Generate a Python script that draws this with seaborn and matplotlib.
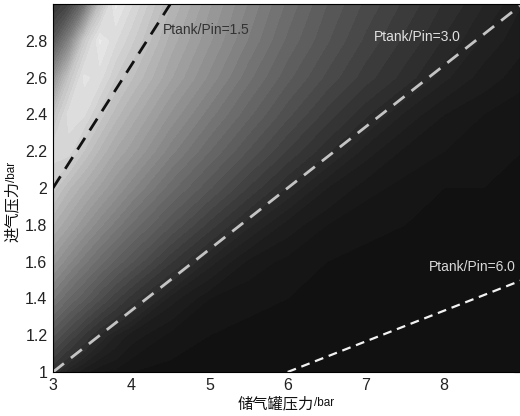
import numpy as np
import pandas as pd
import matplotlib
matplotlib.use("Agg")
import matplotlib.pyplot as plt
import seaborn as sns

# ---------------- data ----------------
tank_pressure = [3.0, 3.2, 3.4, 3.6, 3.8, 4.0, 4.5, 5.0, 5.5, 6.0, 6.5, 7.0, 7.5, 8.0, 8.5, 9.0]
inlet_pressure = [1.0, 1.2, 1.4, 1.6, 1.8, 2.0, 2.2, 2.4, 2.6, 2.8, 3.0]
# grey level of the field (0 = black, 255 = white), one row per inlet pressure
field = [
    [48, 34, 27, 23, 22, 20, 19, 18, 18, 17, 17, 17, 17, 16, 16, 16],
    [85, 70, 55, 42, 34, 28, 22, 20, 19, 18, 18, 17, 17, 17, 17, 16],
    [120, 105, 92, 78, 65, 53, 32, 23, 21, 20, 19, 18, 18, 17, 17, 17],
    [150, 135, 121, 108, 96, 85, 57, 36, 25, 22, 20, 19, 19, 18, 18, 17],
    [175, 162, 148, 135, 123, 111, 85, 60, 39, 28, 23, 21, 20, 19, 19, 18],
    [200, 183, 171, 159, 147, 135, 108, 85, 62, 42, 30, 24, 22, 20, 20, 19],
    [215, 214, 195, 180, 167, 157, 129, 105, 83, 62, 44, 32, 25, 23, 21, 20],
    [192, 220, 218, 200, 185, 173, 146, 122, 100, 79, 60, 44, 33, 26, 23, 21],
    [145, 195, 226, 220, 203, 190, 162, 138, 114, 93, 75, 59, 46, 35, 28, 24],
    [88, 130, 200, 232, 218, 205, 172, 148, 125, 103, 85, 68, 54, 42, 33, 27],
    [52, 68, 110, 190, 233, 218, 182, 155, 132, 110, 91, 75, 61, 48, 38, 30],
]
ratios = [1.5, 3.0, 6.0]
ratio_labels = ["Ptank/Pin=1.5", "Ptank/Pin=3.0", "Ptank/Pin=6.0"]
x_ticks = [3, 4, 5, 6, 7, 8]
x_ticklabels = ["3", "4", "5", "6", "7", "8"]
y_ticks = [1.0, 1.2, 1.4, 1.6, 1.8, 2.0, 2.2, 2.4, 2.6, 2.8]
y_ticklabels = ["1", "1.2", "1.4", "1.6", "1.8", "2", "2.2", "2.4", "2.6", "2.8"]
x_label_main, x_label_unit = "储气罐压力", "/bar"
y_label_main, y_label_unit = "进气压力", "/bar"

# ---------------- style ----------------
sns.set_theme(style="white")
plt.rcParams["font.family"] = ["Liberation Sans", "Noto Sans CJK SC", "DejaVu Sans"]
plt.rcParams["xtick.direction"] = "in"
plt.rcParams["ytick.direction"] = "in"

fig = plt.figure(figsize=(5.2, 4.16), dpi=100)
ax = fig.add_axes([53 / 520, 1 - 372 / 416, 467 / 520, 368 / 416])

X, Y = np.meshgrid(np.array(tank_pressure), np.array(inlet_pressure))
Z = np.array(field, dtype=float)
levels = np.concatenate([[15, 20, 23, 26, 30, 34, 38, 43], np.arange(49, 245, 7)])
ax.contourf(X, Y, Z, levels=levels, cmap="gray", vmin=0, vmax=255,
            antialiased=False)

line_styles = [
    dict(color="#111111", lw=2.0, dashes=(5, 3.2)),
    dict(color="#c4c4c4", lw=2.0, dashes=(5, 3.2)),
    dict(color="#f2f2f2", lw=1.6, dashes=(4, 2.6)),
]
label_pos = [(4.41, 2.86), (7.10, 2.82), (7.80, 1.57)]
label_colors = ["#333333", "#e0e0e0", "#d8d8d8"]
for r, lab, st, pos, tc in zip(ratios, ratio_labels, line_styles, label_pos, label_colors):
    xs = np.array([max(3.0, r * 1.0), min(9.0, r * 3.0)])
    df = pd.DataFrame({"tank": xs, "inlet": xs / r})
    sns.lineplot(data=df, x="tank", y="inlet", ax=ax, color=st["color"], lw=st["lw"],
                 dashes=False, linestyle=(0, st["dashes"]))
    ax.text(pos[0], pos[1], lab, color=tc, fontsize=10, ha="left", va="center")

ax.set_xlim(3, 8.97)
ax.set_ylim(1, 3)
ax.set_xticks(x_ticks)
ax.set_xticklabels(x_ticklabels)
ax.set_yticks(y_ticks)
ax.set_yticklabels(y_ticklabels)
ax.tick_params(axis="both", which="both", length=4, width=0.8, color="black",
               labelsize=11.5, top=True, right=True, pad=4, labelcolor="#222222")
ax.set_xlabel("")
ax.set_ylabel("")
for s in ax.spines.values():
    s.set_color("black")
    s.set_linewidth(0.8)

# axis labels: Chinese part plus smaller unit
fam = ["Noto Sans CJK SC", "DejaVu Sans"]
tx = fig.text(276 / 520, 1 - 408 / 416, x_label_main, ha="center", va="baseline",
              fontsize=11, family=fam, color="#111111")
ax.annotate(x_label_unit, xy=(1, 0), xycoords=tx, ha="left", va="bottom",
            fontsize=8.5, color="#111111", annotation_clip=False,
            xytext=(0, 2), textcoords="offset points")
ty = fig.text(21 / 520, 1 - 212 / 416, y_label_main, ha="right", va="center",
              rotation=90, fontsize=11, family=fam, color="#111111")
ax.annotate(y_label_unit, xy=(1, 1), xycoords=ty, ha="right", va="bottom",
            rotation=90, fontsize=8.5, color="#111111", annotation_clip=False,
            xytext=(-2, 0), textcoords="offset points")

fig.savefig("out.png", dpi=100)
